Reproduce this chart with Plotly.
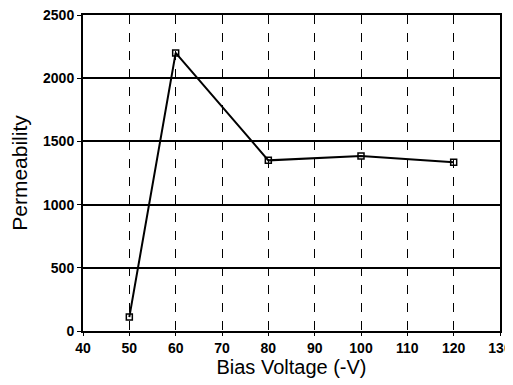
import plotly.graph_objects as go

bias_voltage = [50, 60, 80, 100, 120]
permeability = [110, 2200, 1350, 1385, 1335]

x_ticks = [40, 50, 60, 70, 80, 90, 100, 110, 120, 130]
y_ticks = [0, 500, 1000, 1500, 2000, 2500]

fig = go.Figure()
fig.add_trace(go.Scatter(
    x=bias_voltage, y=permeability, mode="lines+markers",
    line=dict(color="black", width=2),
    marker=dict(symbol="square-open", size=6, color="black", line=dict(width=1.5)),
    showlegend=False,
))

# page body has an 8px default margin; margins compensate for it
fig.update_layout(
    width=513, height=385,
    margin=dict(l=75, r=21, t=7, b=62),
    paper_bgcolor="white", plot_bgcolor="white",
    font=dict(family="Liberation Sans, Arial, sans-serif", color="black"),
)
fig.update_xaxes(
    automargin=False, ticklabeloverflow="allow",
    range=[40, 130], tickvals=x_ticks, ticktext=[str(v) for v in x_ticks],
    tickfont=dict(size=14, family="Liberation Sans, Arial", weight="bold"),
    title=dict(text="Bias Voltage (-V)", font=dict(size=20), standoff=4),
    showline=True, linecolor="black", linewidth=2, mirror=True,
    showgrid=True, gridcolor="black", gridwidth=1, griddash="dash",
    ticks="outside", ticklen=3, tickcolor="black", zeroline=False,
)
fig.update_yaxes(
    automargin=False, ticklabeloverflow="allow",
    range=[0, 2500], tickvals=y_ticks, ticktext=[str(v) for v in y_ticks],
    tickfont=dict(size=14, family="Liberation Sans, Arial", weight="bold"),
    title=dict(text="Permeability", font=dict(size=21), standoff=10),
    showline=True, linecolor="black", linewidth=2, mirror=True,
    showgrid=True, gridcolor="black", gridwidth=1.5,
    ticks="outside", ticklen=4, tickcolor="black", zeroline=False,
)

fig.write_html("out.html")
